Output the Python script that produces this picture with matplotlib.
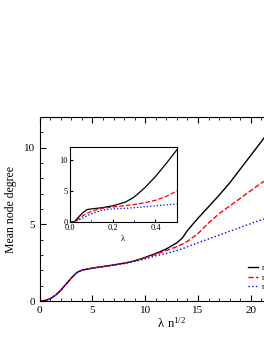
import numpy as np
import matplotlib.pyplot as plt
from matplotlib.ticker import MultipleLocator

plt.rcParams['font.family'] = ['Liberation Serif', 'DejaVu Serif']

# main panel: mean node degree vs lambda * n^(1/2)
x_main = [0, 0.5, 1, 1.5, 2, 2.5, 3, 3.5, 4, 5, 6, 7, 8, 9, 10, 11, 12, 13, 13.5,
          14, 15, 16, 17, 18, 19, 20, 21, 22]
y_black = [0, 0.04, 0.15, 0.38, 0.7, 1.1, 1.5, 1.85, 2.02, 2.15, 2.25, 2.35, 2.47,
           2.62, 2.85, 3.1, 3.4, 3.8, 4.1, 4.6, 5.4, 6.15, 6.9, 7.7, 8.6, 9.5, 10.4, 11.3]
y_red = [0, 0.04, 0.15, 0.38, 0.7, 1.1, 1.5, 1.85, 2.02, 2.15, 2.25, 2.35, 2.47,
         2.62, 2.82, 3.05, 3.3, 3.55, 3.7, 3.9, 4.4, 5.1, 5.7, 6.2, 6.7, 7.2, 7.7, 8.1]
y_blue = [0, 0.04, 0.15, 0.38, 0.7, 1.1, 1.5, 1.85, 2.02, 2.15, 2.25, 2.35, 2.45,
          2.58, 2.75, 2.95, 3.1, 3.3, 3.4, 3.55, 3.8, 4.05, 4.3, 4.55, 4.8, 5.05, 5.3, 5.5]

# inset: mean node degree vs lambda
x_in = [0.0, 0.02, 0.04, 0.06, 0.08, 0.1, 0.15, 0.2, 0.26, 0.3, 0.35, 0.4, 0.45, 0.5]
yi_black = [0, 0, 0.8, 1.5, 2.0, 2.1, 2.3, 2.6, 3.2, 4.0, 5.5, 7.3, 9.4, 11.6]
yi_red = [0, 0, 0.5, 1.0, 1.4, 1.7, 2.2, 2.4, 2.65, 2.8, 3.1, 3.5, 4.1, 5.0]
yi_blue = [0, 0, 0.3, 0.6, 1.0, 1.3, 1.9, 2.1, 2.2, 2.3, 2.45, 2.6, 2.75, 2.9]

labels = ['n = 100', 'n = 1000', 'n = 10000']
styles = [('black', '-'), ('red', '--'), ('blue', ':')]

fig = plt.figure(figsize=(2.64, 3.41), dpi=100)
ax = fig.add_axes([0.150, 0.117, 1.0, 0.540])

for y, lab, (c, ls) in zip([y_black, y_red, y_blue], labels, styles):
    ax.plot(x_main, y, color=c, linestyle=ls, linewidth=1.0, label=lab)

ax.set_xlim(0, 25)
ax.set_ylim(0, 12)
ax.xaxis.set_major_locator(MultipleLocator(5))
ax.xaxis.set_minor_locator(MultipleLocator(1))
ax.yaxis.set_major_locator(MultipleLocator(5))
ax.yaxis.set_minor_locator(MultipleLocator(1))
ax.tick_params(which='both', direction='in', top=True, right=True, labelsize=8)
ax.tick_params(which='major', length=4)
ax.tick_params(which='minor', length=2)
ax.set_xlabel(r'$\mathregular{\lambda\ n^{1/2}}$', fontsize=9, labelpad=1)
ax.set_ylabel('Mean node degree', fontsize=8.5, labelpad=5)

ax.legend(loc='upper left', bbox_to_anchor=(0.925, 0.238), bbox_transform=fig.transFigure,
          frameon=False, fontsize=6, handlelength=1.15, handletextpad=0.5,
          labelspacing=0.2, borderpad=0)

ins = fig.add_axes([0.265, 0.349, 0.405, 0.219])
for y, (c, ls) in zip([yi_black, yi_red, yi_blue], styles):
    ins.plot(x_in, y, color=c, linestyle=ls, linewidth=0.9)
ins.set_xlim(0, 0.5)
ins.set_ylim(0, 12)
ins.xaxis.set_major_locator(MultipleLocator(0.2))
ins.xaxis.set_minor_locator(MultipleLocator(0.1))
ins.yaxis.set_major_locator(MultipleLocator(5))
ins.tick_params(which='both', direction='in', labelsize=6, pad=1.5)
ins.tick_params(which='major', length=2.5)
ins.tick_params(which='minor', length=1.5)
ins.set_xlabel(r'$\mathregular{\lambda}$', fontsize=6, labelpad=1)

fig.savefig('out.png', dpi=100)
